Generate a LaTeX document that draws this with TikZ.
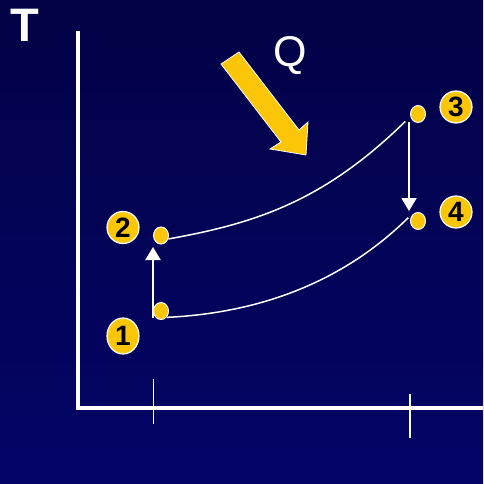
\documentclass[tikz,border=0pt]{standalone}
\usepackage{fontspec}
\setmainfont{Liberation Sans}
\usetikzlibrary{shapes.geometric,arrows.meta}
\definecolor{bgtop}{RGB}{2,2,70}
\definecolor{bgbot}{RGB}{4,4,104}
\definecolor{gold}{RGB}{252,198,8}
\tikzset{
  statept/.style={ellipse,draw=white,line width=1pt,fill=gold,inner sep=0pt,minimum width=15pt,minimum height=17pt},
  statelbl/.style={ellipse,draw=white,line width=1.2pt,fill=gold,inner sep=0pt,minimum width=32pt,minimum height=32pt,font=\fontsize{28}{28}\selectfont\bfseries,text=black},
  curveline/.style={white,line width=1.5pt},
  stepline/.style={white,line width=2pt,-{Triangle[width=15pt,length=13pt]}},
  axisline/.style={white,line width=4pt},
  tickline/.style={white,line width=1.5pt}
}
\begin{document}
\begin{tikzpicture}[x=1pt,y=-1pt]
\useasboundingbox (0,0) rectangle (483,484);
\shade[top color=bgtop,bottom color=bgbot] (0,0) rectangle (483,484);
% axes
\draw[axisline] (78,31) -- (78,408) -- (483,408);
\draw[tickline] (153.5,379) -- (153.5,424);
\draw[tickline] (410,394) -- (410,438);
% axis label
\node[text=white,font=\fontsize{47}{47}\selectfont\bfseries,inner sep=0pt] (T) at (25,25) {T};
% heat arrow
\fill[gold,draw=white,line width=0.8pt] (221,64) -- (239,52) -- (299,130) -- (308,122) -- (306,155) -- (270,149) -- (281,142) -- cycle;
\node[text=white,font=\fontsize{43}{43}\selectfont,inner sep=0pt] (Q) at (290,56) {Q};
% state points
\node[statept] (p1) at (161,311) {};
\node[statept] (p2) at (161,235.5) {};
\node[statept] (p3) at (418,114) {};
\node[statept] (p4) at (418,221) {};
% labels
\node[statelbl,minimum height=36pt] (l1) at (123,336) {1};
\node[statelbl] (l2) at (123,227.5) {2};
\node[statelbl] (l3) at (456,107) {3};
\node[statelbl] (l4) at (456,212) {4};
% processes
\draw[curveline] (p2.-25) .. controls (258,223) and (325,200) .. ([xshift=-7pt,yshift=-1pt]p3.south west);
\draw[curveline] (p1.south east) .. controls (260,313) and (343,282) .. ([xshift=-4pt,yshift=-3pt]p4.north west);
\draw[stepline] ([yshift=2.5pt]p1.west |- p1.south) -- ([yshift=-2.5pt]p2.west |- p2.south);
\draw[stepline] ([yshift=1pt,xshift=-1pt]p3.west |- p3.south) -- ([xshift=-1pt,yshift=1pt]p4.west |- p4.north);
\end{tikzpicture}
\end{document}
